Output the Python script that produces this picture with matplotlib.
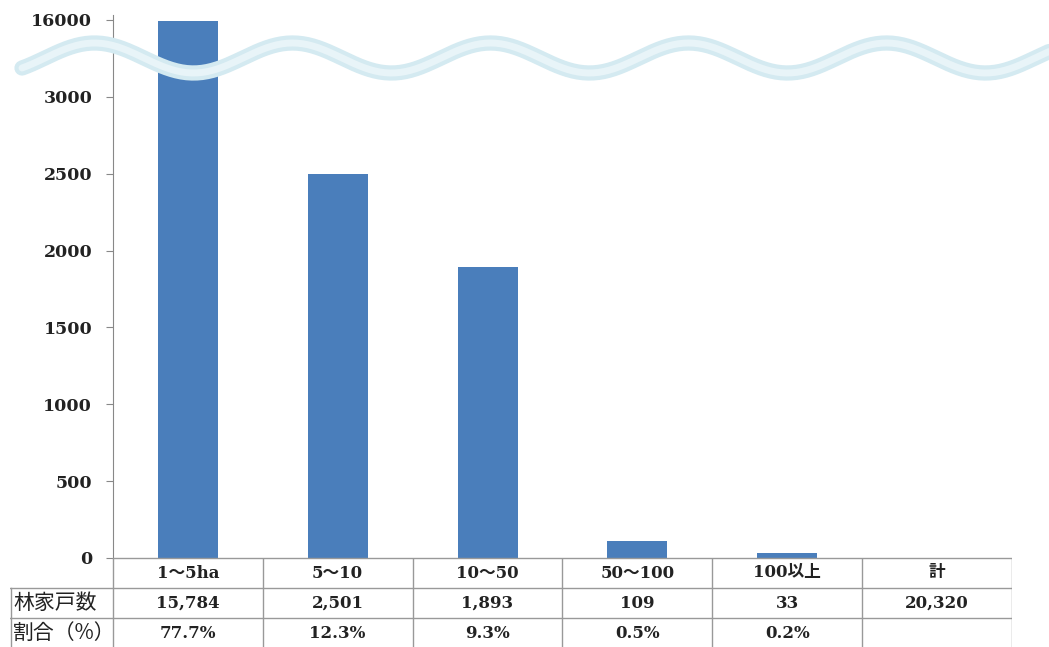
import numpy as np
import matplotlib
matplotlib.use("Agg")
import matplotlib.pyplot as plt

plt.rcParams['font.family'] = ['DejaVu Serif', 'Noto Sans CJK JP']

categories = ["1〜5ha", "5〜10", "10〜50", "50〜100", "100以上", "計"]
households = [15784, 2501, 1893, 109, 33]
household_labels = ["15,784", "2,501", "1,893", "109", "33", "20,320"]
share_labels = ["77.7%", "12.3%", "9.3%", "0.5%", "0.2%", ""]
row_labels = ["林家戸数", "割合（%）"]
tick_values = [0, 500, 1000, 1500, 2000, 2500, 3000, 16000]

BREAK_LOW, BREAK_HIGH = 3000, 16000


def squash(v):
    # values above the break are compressed into one tick step
    if v <= BREAK_LOW:
        return v
    return BREAK_LOW + (v - BREAK_LOW) / (BREAK_HIGH - BREAK_LOW) * 500


W, H = 1049, 647
fig = plt.figure(figsize=(W / 100, H / 100), dpi=100)

ax_left, ax_right = 113, 1012
ax_bottom, ax_top = 558, 15
ax = fig.add_axes([ax_left / W, (H - ax_bottom) / H, (ax_right - ax_left) / W, (ax_bottom - ax_top) / H])

x = np.arange(len(households))
ax.bar(x, [squash(v) for v in households], width=0.4, color="#4a7ebb", zorder=2)

ax.set_xlim(-0.5, len(categories) - 0.5)
ax.set_ylim(0, 3500 * (ax_bottom - ax_top) / (ax_bottom - 20))
ax.set_yticks([squash(v) for v in tick_values])
ax.set_yticklabels([str(v) for v in tick_values], fontsize=12.5, fontweight="bold", color="#222222")
ax.set_xticks([])
for s in ["top", "right", "bottom"]:
    ax.spines[s].set_visible(False)
ax.spines["left"].set_color("#888888")
ax.tick_params(axis="y", length=5, color="#888888", pad=10)
ax.axhline(0, color="#999999", lw=1, zorder=3)

# wavy break marker (decoration)
wx = np.linspace(22, 1049, 400)
wy = 58 - 15 * np.sin((wx - 45) / 198 * 2 * np.pi)
fig.add_artist(plt.Line2D(wx / W, (H - wy) / H, color="#d4eaf1", lw=11, solid_capstyle="round", zorder=5))
fig.add_artist(plt.Line2D(wx / W, (H - wy) / H, color="#e8f4f8", lw=5, solid_capstyle="round", zorder=6))

# data table under the chart
tl = 10
tab = fig.add_axes([tl / W, 0, (ax_right - tl) / W, (H - ax_bottom) / H])
x0 = -0.5 - (ax_left - tl) / 150
tab.set_xlim(x0, len(categories) - 0.5)
tab.set_ylim(0, H - ax_bottom)
tab.axis("off")
row_y = [H - 573, H - 603, H - 633]
lc = "#999999"
tab.plot([-0.5, len(categories) - 0.5], [H - 558] * 2, color=lc, lw=1)
for yb in [H - 588, H - 618]:
    tab.plot([x0, len(categories) - 0.5], [yb, yb], color=lc, lw=1)
for i in range(len(categories) + 1):
    tab.plot([i - 0.5, i - 0.5], [0, H - 558], color=lc, lw=1)
tab.plot([x0 + 0.005, x0 + 0.005], [0, H - 588], color=lc, lw=1)

for i, c in enumerate(categories):
    tab.text(i, row_y[0], c, ha="center", va="center", fontsize=12, fontweight="bold", color="#222222")
    tab.text(i, row_y[1], household_labels[i], ha="center", va="center", fontsize=12, fontweight="bold", color="#222222")
    tab.text(i, row_y[2], share_labels[i], ha="center", va="center", fontsize=12, fontweight="bold", color="#222222")
for r, lab in enumerate(row_labels):
    tab.text(x0 + 0.02, row_y[r + 1], lab, ha="left", va="center", fontsize=15,
             family=["Noto Sans CJK JP", "DejaVu Sans"], color="#222222")

fig.savefig("out.png", dpi=100)
